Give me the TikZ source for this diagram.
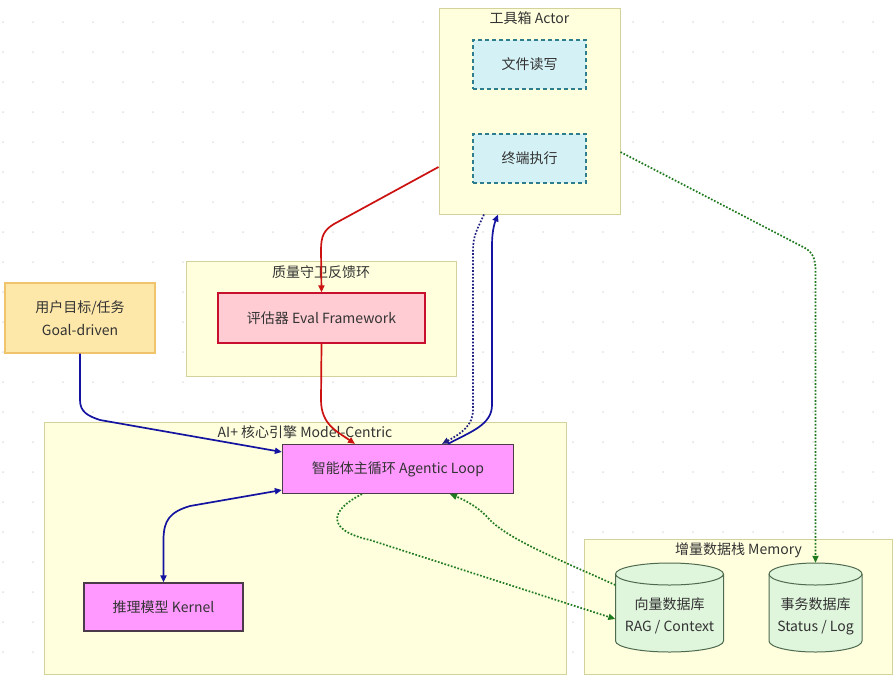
\documentclass[tikz,border=0pt]{standalone}
\usepackage{fontspec}
\setmainfont{Noto Sans CJK SC}
\usetikzlibrary{arrows.meta}
\definecolor{clfill}{HTML}{FFFFDE}
\definecolor{cldraw}{HTML}{D2D29A}
\definecolor{txt}{HTML}{333333}
\definecolor{dotc}{HTML}{E2E2E2}
\definecolor{goalfill}{HTML}{FDE8A9}
\definecolor{goaldraw}{HTML}{F0C46C}
\definecolor{evalfill}{HTML}{FFCCD3}
\definecolor{evaldraw}{HTML}{C8102E}
\definecolor{agfill}{HTML}{FF99FF}
\definecolor{agdraw}{HTML}{4A3A4A}
\definecolor{toolfill}{HTML}{D4F1F5}
\definecolor{tooldraw}{HTML}{2E7D8C}
\definecolor{dbfill}{HTML}{DFF5DC}
\definecolor{dbdraw}{HTML}{4F6B4F}
\definecolor{eblue}{HTML}{1414A0}
\definecolor{eblued}{HTML}{202080}
\definecolor{ered}{HTML}{CC1111}
\definecolor{egreen}{HTML}{1F7A1F}
\tikzset{
  cluster/.style={draw=cldraw, fill=clfill, line width=1pt, inner sep=0pt},
  ctitle/.style={text=txt, font=\fontsize{14}{16}\selectfont, inner sep=0pt},
  box/.style={text=txt, font=\fontsize{14}{16}\selectfont, inner sep=0pt, align=center, line width=1.2pt},
  goalbox/.style={box, draw=goaldraw, fill=goalfill},
  evalbox/.style={box, draw=evaldraw, fill=evalfill},
  agbox/.style={box, draw=agdraw, fill=agfill},
  toolbox/.style={box, draw=tooldraw, fill=toolfill, dash pattern=on 4pt off 3pt},
  dbnode/.style={inner sep=0pt},
  dbtext/.style={text=txt, font=\fontsize{14}{22}\selectfont, align=center, inner sep=0pt},
  tip/.style={-{Triangle[length=7pt,width=6pt]}},
  tips/.style={{Triangle[length=7pt,width=6pt]}-{Triangle[length=7pt,width=6pt]}},
  sblue/.style={draw=eblue, line width=1.7pt, tip, fill=none},
  dblue/.style={draw=eblued, line width=1.7pt, dash pattern=on 1.7pt off 1.7pt, fill=none, tip},
  sred/.style={draw=ered, line width=1.7pt, tip},
  dgreen/.style={draw=egreen, line width=1.7pt, dash pattern=on 1.7pt off 1.7pt, fill=none, tip},
}
\begin{document}
\begin{tikzpicture}[x=1pt,y=-1pt]
\useasboundingbox (0,0) rectangle (893,678);
\fill[white] (0,0) rectangle (893,678);
\foreach \i in {0,...,29} \foreach \j in {0,...,22} \fill[dotc] (3+30*\i,22+30*\j) circle (1pt);

% clusters
\node[cluster, minimum width=181pt, minimum height=206pt] (actor) at (529.5,111) {};
\node[ctitle] (actorT) at (529.5,18) {工具箱 Actor};
\node[cluster, minimum width=270pt, minimum height=115pt] (qc) at (321,318.5) {};
\node[ctitle] (qcT) at (321,272) {质量守卫反馈环};
\node[cluster, minimum width=522pt, minimum height=252pt] (core) at (305,548) {};
\node[ctitle] (coreT) at (305,432) {AI+ 核心引擎 Model-Centric};
\node[cluster, minimum width=308pt, minimum height=135pt] (mem) at (738,606.5) {};
\node[ctitle] (memT) at (738.5,550) {增量数据栈 Memory};

% nodes
\node[toolbox, minimum width=113pt, minimum height=49pt] (fw) at (529.5,64.5) {文件读写};
\node[toolbox, minimum width=113pt, minimum height=49pt] (te) at (529.5,158.5) {终端执行};
\node[evalbox, minimum width=207pt, minimum height=50pt] (eval) at (321.5,318) {评估器 Eval Framework};
\node[goalbox, minimum width=150pt, minimum height=70pt, font=\fontsize{14}{23}\selectfont] (goal) at (80,318) {用户目标/任务\\Goal-driven};
\node[agbox, minimum width=231pt, minimum height=49pt] (agent) at (398,469) {智能体主循环 Agentic Loop};
\node[agbox, minimum width=159pt, minimum height=48pt] (kern) at (163.5,607) {推理模型 Kernel};

% cylinders
\draw[fill=dbfill, draw=dbdraw, line width=1pt]
  (615.5,574) -- (615.5,641) arc[start angle=180,end angle=360,x radius=54pt,y radius=11pt]
  -- (723.5,574) arc[start angle=0,end angle=180,x radius=54pt,y radius=11pt] -- cycle;
\draw[draw=dbdraw, line width=1pt] (615.5,574) arc[start angle=180,end angle=360,x radius=54pt,y radius=11pt];
\node[dbnode, minimum width=108pt, minimum height=89pt] (vec) at (669.5,607.5) {};
\node[dbtext] (vecT) at (669.5,616) {向量数据库\\RAG / Context};

\draw[fill=dbfill, draw=dbdraw, line width=1pt]
  (769,574) -- (769,641) arc[start angle=180,end angle=360,x radius=46.5pt,y radius=11pt]
  -- (862,574) arc[start angle=0,end angle=180,x radius=46.5pt,y radius=11pt] -- cycle;
\draw[draw=dbdraw, line width=1pt] (769,574) arc[start angle=180,end angle=360,x radius=46.5pt,y radius=11pt];
\node[dbnode, minimum width=93pt, minimum height=89pt] (tx) at (815.5,607.5) {};
\node[dbtext] (txT) at (815.5,616) {事务数据库\\Status / Log};

% edges
\draw[sred] ([yshift=-56pt]actor.west) -- (334,224) .. controls (324,230) and (321,236) .. (321,250) -- (eval.north);
\draw[sred] (eval.south) -- (321,400) .. controls (321,425) and (338,432) .. ([xshift=-43pt]agent.north);
\draw[sblue] (goal.south) -- (80,400) .. controls (80,412) and (88,416) .. (100,420) -- ([yshift=17pt]agent.west);
\draw[sblue, tips] (kern.north) -- (163.5,540) .. controls (163.5,520) and (170,512) .. (190,506) -- ([yshift=-21pt]agent.west);
\draw[dblue] ([xshift=-45.5pt]actor.south) .. controls (478,228) and (473,235) .. (473,250) -- (473,410) .. controls (473,425) and (462,433) .. ([xshift=44pt]agent.north);
\draw[sblue] ([xshift=50pt]agent.north) .. controls (470,432) and (492,425) .. (492,405) -- (492,245) .. controls (492,230) and (495,222) .. ([xshift=-31.5pt]actor.south);
\draw[dgreen] ([yshift=-41pt]actor.east) -- (805,248) .. controls (812,252) and (815.5,258) .. (815.5,270) -- (tx.north);
\draw[dgreen] ([xshift=-36pt]agent.south) .. controls (330,510) and (325,530) .. (370,540) -- ([yshift=-11.5pt]vec.west);
\draw[dgreen] ([yshift=22.5pt]vec.west) .. controls (560,560) and (510,540) .. (490,520) .. controls (480,508) and (465,500) .. ([xshift=52pt]agent.south);
\end{tikzpicture}
\end{document}
